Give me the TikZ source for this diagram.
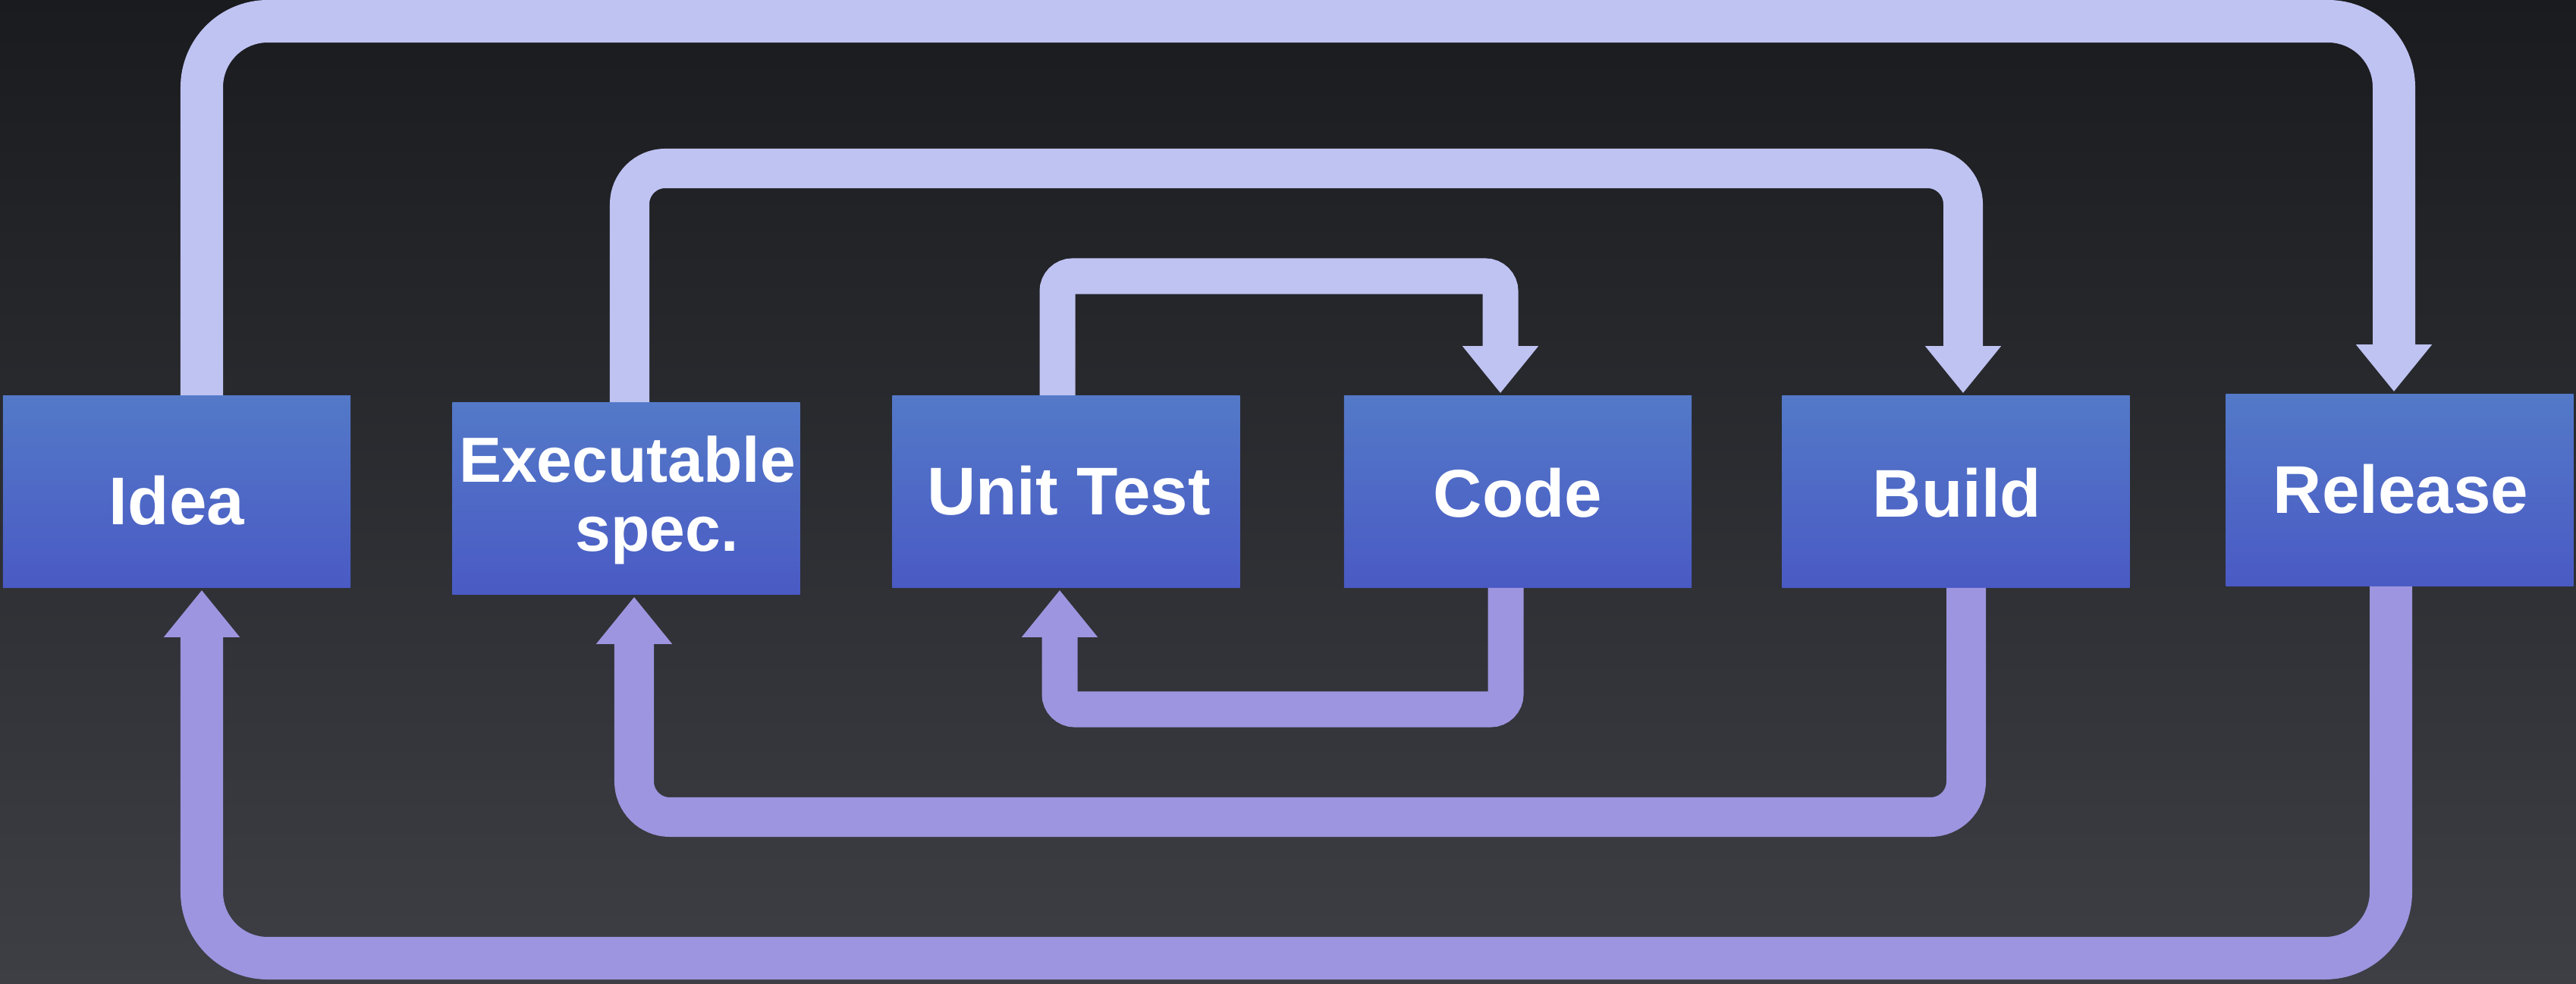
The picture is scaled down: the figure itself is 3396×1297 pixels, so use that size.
\documentclass[tikz,border=0pt]{standalone}
\usepackage{fontspec}
\setmainfont{Liberation Sans}
\usetikzlibrary{arrows.meta}
\definecolor{bgtop}{HTML}{1A1B1E}
\definecolor{bgbot}{HTML}{3D3F45}
\definecolor{boxtop}{HTML}{5379C8}
\definecolor{boxbot}{HTML}{4A5AC4}
\definecolor{fwd}{HTML}{BFC3F2}
\definecolor{back}{HTML}{9D95DF}
\begin{document}
\begin{tikzpicture}[x=0.01cm,y=-0.01cm,
  box/.style={rectangle, minimum width=4.58cm, minimum height=2.52cm, inner sep=0pt,
    top color=boxtop, bottom color=boxbot, draw=none},
  lbl/.style={text=white, font=\bfseries\fontsize{25.3pt}{30pt}\selectfont, inner sep=0pt, anchor=base},
  lbls/.style={lbl, font=\bfseries\fontsize{23.9pt}{28pt}\selectfont},
  tipstyle/.style={-{Triangle[width=0.96cm,length=0.62cm]}, shorten >=0.03cm},
  fline/.style={draw=fwd, tipstyle},
  bline/.style={draw=back, tipstyle},
  big/.style={line width=0.56cm, rounded corners=0.87cm},
  mid/.style={line width=0.52cm, rounded corners=0.47cm},
  small/.style={line width=0.47cm, rounded corners=0.2cm}]

\useasboundingbox (0,0) rectangle (3396,1297);
\fill[top color=bgtop, bottom color=bgbot] (0,0) rectangle (3396,1297);

% boxes
\node[box] (idea)    at (233,648)    {};
\node[box] (exec)    at (825.5,657)  {};
\node[box] (unit)    at (1405.5,648) {};
\node[box] (code)    at (2001,648)   {};
\node[box] (build)   at (2578.5,648) {};
\node[box] (release) at (3163.5,646) {};

% labels
\node[lbl]  (tidea)  at (233,691)  {Idea};
\node[lbls] (texec1) at (827,635)  {Executable};
\node[lbls] (texec2) at (866,726)  {spec.};
\node[lbl]  (tunit)  at (1409,678) {Unit Test};
\node[lbl]  (tcode)  at (2001,681) {Code};
\node[lbl]  (tbuild) at (2580,681) {Build};
\node[lbl]  (trel)   at (3165,676) {Release};

% corner coordinates
\coordinate (o1) at (266,28);
\coordinate (o2) at (3156,28);
\coordinate (m1) at (830,222);
\coordinate (m2) at (2588,222);
\coordinate (s1) at (1394,364);
\coordinate (s2) at (1978,364);
\coordinate (s3) at (1985,935);
\coordinate (s4) at (1397,935);
\coordinate (m3) at (2592,1077);
\coordinate (m4) at (836,1077);
\coordinate (o3) at (3152,1263);
\coordinate (o4) at (266,1263);

% forward loops
\draw[fline, big]   (idea.north -| o1) -- (o1) -- (o2) -- (release.north -| o2);
\draw[fline, mid]   (exec.north -| m1) -- (m1) -- (m2) -- (build.north -| m2);
\draw[fline, small] (unit.north -| s1) -- (s1) -- (s2) -- (code.north -| s2);

% backward loops
\draw[bline, small] (code.south -| s3) -- (s3) -- (s4) -- (unit.south -| s4);
\draw[bline, mid]   (build.south -| m3) -- (m3) -- (m4) -- (exec.south -| m4);
\draw[bline, big]   (release.south -| o3) -- (o3) -- (o4) -- (idea.south -| o4);
\end{tikzpicture}
\end{document}
